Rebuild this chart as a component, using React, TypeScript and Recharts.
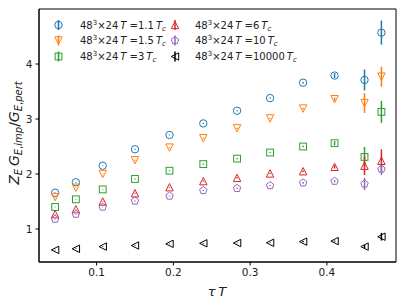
import React from 'react';
import { ScatterChart, Scatter, XAxis, YAxis, ErrorBar, ReferenceArea } from 'recharts';

const TAU_T = [0.046, 0.073, 0.108, 0.15, 0.195, 0.239, 0.283, 0.326, 0.369, 0.41, 0.449, 0.471];

const T1_1 = [1.66, 1.85, 2.15, 2.45, 2.71, 2.92, 3.15, 3.38, 3.66, 3.79, 3.71, 4.57];
const T1_5 = [1.58, 1.75, 2.0, 2.25, 2.48, 2.65, 2.83, 3.01, 3.19, 3.36, 3.29, 3.77];
const T3 = [1.4, 1.54, 1.72, 1.91, 2.06, 2.18, 2.28, 2.39, 2.5, 2.56, 2.31, 3.13];
const T6 = [1.27, 1.36, 1.5, 1.65, 1.76, 1.87, 1.93, 2.01, 2.05, 2.13, 2.15, 2.24];
const T10 = [1.18, 1.27, 1.4, 1.51, 1.6, 1.7, 1.74, 1.79, 1.84, 1.87, 1.82, 2.09];
const T10000 = [0.62, 0.64, 0.68, 0.7, 0.73, 0.74, 0.745, 0.75, 0.77, 0.78, 0.68, 0.86];

const E1_1 = [0.005, 0.005, 0.005, 0.008, 0.008, 0.01, 0.01, 0.01, 0.015, 0.045, 0.19, 0.22];
const E1_5 = [0.005, 0.005, 0.005, 0.008, 0.008, 0.01, 0.01, 0.01, 0.015, 0.03, 0.18, 0.18];
const E3 = [0.005, 0.005, 0.005, 0.008, 0.008, 0.01, 0.01, 0.01, 0.015, 0.04, 0.18, 0.2];
const E6 = [0.005, 0.005, 0.005, 0.008, 0.008, 0.01, 0.01, 0.01, 0.015, 0.03, 0.17, 0.21];
const E10 = [0.005, 0.005, 0.005, 0.008, 0.008, 0.01, 0.01, 0.01, 0.015, 0.02, 0.11, 0.11];
const E10000 = [0.005, 0.005, 0.005, 0.005, 0.005, 0.005, 0.005, 0.005, 0.01, 0.01, 0.03, 0.07];

const X_TICKS = [0.1, 0.2, 0.3, 0.4];
const Y_TICKS = [1, 2, 3, 4];
const LABELS = ['1.1', '1.5', '3', '6', '10', '10000'];

const FONT = '"DejaVu Sans", sans-serif';

function toPoints(ys: number[], es: number[]) {
  return TAU_T.map((x, i) => ({ x, y: ys[i], err: es[i] }));
}

type Mk = 'circle' | 'down' | 'square' | 'up' | 'pentagon' | 'left';

function Marker({ cx, cy, kind, color }: { cx: number; cy: number; kind: Mk; color: string }) {
  const s = { fill: 'none', stroke: color, strokeWidth: 1 };
  const r = 3.7;
  if (kind === 'circle') return <circle cx={cx} cy={cy} r={r} {...s} />;
  if (kind === 'square') return <rect x={cx - 3.4} y={cy - 3.4} width={6.8} height={6.8} {...s} />;
  if (kind === 'down')
    return <polygon points={`${cx - r},${cy - r} ${cx + r},${cy - r} ${cx},${cy + r}`} {...s} />;
  if (kind === 'up')
    return <polygon points={`${cx - r},${cy + r} ${cx + r},${cy + r} ${cx},${cy - r}`} {...s} />;
  if (kind === 'left')
    return <polygon points={`${cx + r},${cy - r} ${cx + r},${cy + r} ${cx - r},${cy}`} {...s} />;
  const pts = [0, 1, 2, 3, 4]
    .map((k) => {
      const a = -Math.PI / 2 + (k * 2 * Math.PI) / 5;
      return `${cx + 3.9 * Math.cos(a)},${cy + 3.9 * Math.sin(a)}`;
    })
    .join(' ');
  return <polygon points={pts} {...s} />;
}

const SERIES: { ys: number[]; es: number[]; color: string; kind: Mk }[] = [
  { ys: T1_1, es: E1_1, color: '#1f77b4', kind: 'circle' },
  { ys: T1_5, es: E1_5, color: '#ff7f0e', kind: 'down' },
  { ys: T3, es: E3, color: '#2ca02c', kind: 'square' },
  { ys: T6, es: E6, color: '#d62728', kind: 'up' },
  { ys: T10, es: E10, color: '#9467bd', kind: 'pentagon' },
  { ys: T10000, es: E10000, color: '#000000', kind: 'left' },
];

function LegendText({ x, y, label }: { x: number; y: number; label: string }) {
  return (
    <text x={x} y={y} fontFamily={FONT} fontSize={10} fill="#222">
      48
      <tspan fontSize={7} dy={-4}>3</tspan>
      <tspan dy={4}>×24</tspan>
      <tspan fontStyle="italic">{'\u2009T'}</tspan>
      <tspan>{' =' + label}</tspan>
      <tspan fontStyle="italic">{'\u2009T'}</tspan>
      <tspan fontSize={7} fontStyle="italic" dy={2}>c</tspan>
    </text>
  );
}

function Overlay() {
  const rows = [25, 40.5, 56.5];
  return (
    <svg width={407} height={305} style={{ position: 'absolute', left: 0, top: 0, pointerEvents: 'none' }}>
      {SERIES.map((s, i) => {
        const col = i < 3 ? 0 : 1;
        const row = i % 3;
        const mx = col === 0 ? 58.5 : 175;
        const tx = col === 0 ? 80 : 195;
        const y = rows[row];
        return (
          <g key={i}>
            <line x1={mx} x2={mx} y1={y - 5} y2={y + 5} stroke={s.color} strokeWidth={1.5} />
            <Marker cx={mx} cy={y} kind={s.kind} color={s.color} />
            <LegendText x={tx} y={y + 3.5} label={LABELS[i]} />
          </g>
        );
      })}
      <text
        transform="translate(19,133) rotate(-90)"
        textAnchor="middle"
        fontFamily={FONT}
        fontSize={14}
        fill="#222"
      >
        <tspan fontStyle="italic">Z</tspan>
        <tspan fontStyle="italic" fontSize={10} dy={3}>E</tspan>
        <tspan fontStyle="italic" dy={-3}>{'\u2009G'}</tspan>
        <tspan fontSize={10} dy={3}>
          <tspan fontStyle="italic">E</tspan>,<tspan fontStyle="italic">imp</tspan>
        </tspan>
        <tspan dy={-3}>/</tspan>
        <tspan fontStyle="italic">G</tspan>
        <tspan fontSize={10} dy={3}>
          <tspan fontStyle="italic">E</tspan>,<tspan fontStyle="italic">pert</tspan>
        </tspan>
      </text>
      <text x={217} y={296} textAnchor="middle" fontFamily={FONT} fontSize={13} fill="#222">
        <tspan fontStyle="italic">τ</tspan>
        <tspan fontStyle="italic">{'\u2009T'}</tspan>
      </text>
    </svg>
  );
}

export default function App() {
  return (
    <div style={{ position: 'absolute', left: 0, top: 0, width: 407, height: 305, background: '#fff' }}>
      <ScatterChart width={407} height={305} margin={{ top: 9, right: 11, bottom: 13, left: 9 }}>
        <XAxis
          type="number"
          dataKey="x"
          domain={[0.025, 0.49]}
          ticks={X_TICKS}
          tickFormatter={(v: number) => v.toFixed(1)}
          allowDataOverflow
          height={30}
          tickSize={3.5}
          tickMargin={3}
          stroke="#000"
          tick={{ fontSize: 10.5, fill: '#222', fontFamily: FONT }}
        />
        <YAxis
          type="number"
          dataKey="y"
          domain={[0.4, 5.0]}
          ticks={Y_TICKS}
          allowDataOverflow
          width={30}
          tickSize={3.5}
          tickMargin={3}
          stroke="#000"
          tick={{ fontSize: 10.5, fill: '#222', fontFamily: FONT }}
        />
        <ReferenceArea x1={0.025} x2={0.49} y1={0.4} y2={5.0} fill="none" stroke="#000" strokeWidth={1} ifOverflow="visible" />
        {SERIES.map((s, i) => (
          <Scatter
            key={i}
            data={toPoints(s.ys, s.es)}
            isAnimationActive={false}
            shape={(p: any) => <Marker cx={p.cx} cy={p.cy} kind={s.kind} color={s.color} />}
          >
            <ErrorBar dataKey="err" direction="y" width={0} stroke={s.color} strokeWidth={1.5} isAnimationActive={false} />
          </Scatter>
        ))}
      </ScatterChart>
      <Overlay />
    </div>
  );
}
